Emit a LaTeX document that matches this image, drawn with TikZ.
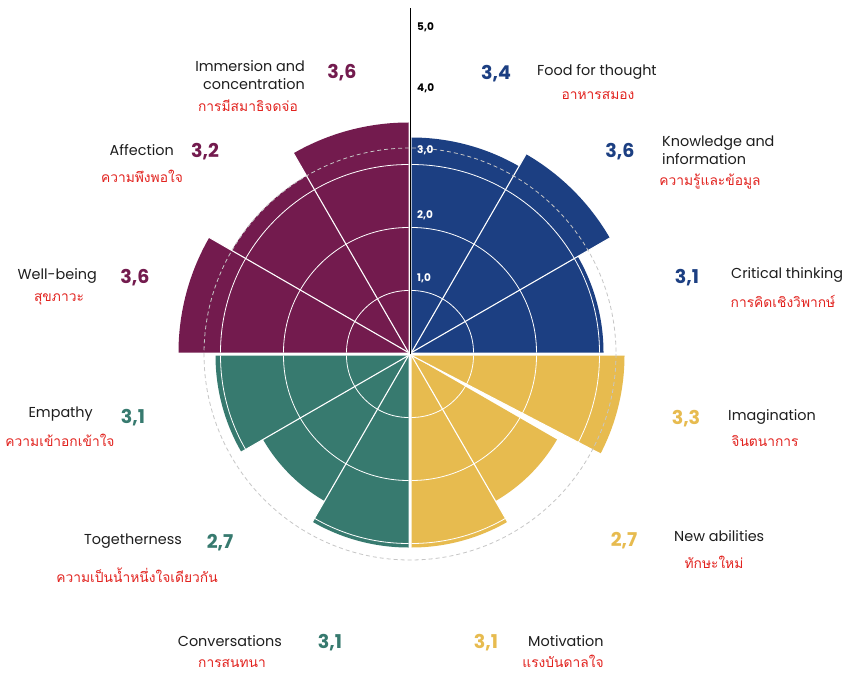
\documentclass[tikz,border=0pt]{standalone}
\usepackage{fontspec}
\setmainfont{Poppins}
\newfontfamily\thai[Script=Thai]{Loma}
\definecolor{cpur}{HTML}{731B4E}
\definecolor{cblu}{HTML}{1C3F82}
\definecolor{cyel}{HTML}{E7BB4F}
\definecolor{ctea}{HTML}{377A6F}
\definecolor{cred}{HTML}{E2231F}
\definecolor{ctxt}{HTML}{1E1E1E}
\tikzset{
  lab/.style={font=\fontsize{14.4}{18}\selectfont, text=ctxt, inner sep=0pt, align=left},
  labr/.style={lab, anchor=east, align=right},
  labl/.style={lab, anchor=west, align=left},
  val/.style={font=\fontsize{19}{21}\selectfont\bfseries, inner sep=0pt},
  th/.style={font=\thai\fontsize{13.8}{15}\selectfont, text=cred, inner sep=0pt},
  ax/.style={font=\fontsize{10.5}{12}\selectfont\bfseries, inner sep=0pt, anchor=west},
  grid/.style={white, line width=0.8pt},
  sep/.style={white, line width=1.1pt},
}
\newcommand{\sect}[4]{% color, a1, a2, radius px
  \fill[#1] (0,0) -- (#2:#4) arc[start angle=#2, end angle=#3, radius=#4] -- cycle;}
\begin{document}
\begin{tikzpicture}[x=1pt,y=-1pt]
\useasboundingbox (0,0) rectangle (851,674);
\fill[white] (0,0) rectangle (851,674);
% axis
\coordinate (ctr) at (410,354);
\coordinate (axtop) at (410,8);
\draw[black, line width=0.8pt] (ctr) -- (axtop);
\node[ax, text=black] (a5) at (417,27) {5,0};
\node[ax, text=black] (a4) at (417,88) {4,0};
% blue quadrant
\begin{scope}[shift={(411.5,352.5)}, yscale=-1]
  \sect{cblu}{60}{90}{215}
  \sect{cblu}{30}{60}{229}
  \sect{cblu}{0}{30}{192}
  \foreach \r in {62,125,188} \draw[grid] (\r,0) arc[start angle=0, end angle=90, radius=\r];
  \draw[sep] (0,0) -- (30:240);
  \draw[sep] (0,0) -- (60:240);
\end{scope}
% yellow quadrant
\begin{scope}[shift={(411.5,355.5)}, yscale=-1]
  \sect{cyel}{-27.5}{0}{213}
  \sect{cyel}{-60}{-30}{168}
  \sect{cyel}{-90}{-60}{192}
  \foreach \r in {62,125,188} \draw[grid] (\r,0) arc[start angle=0, end angle=-90, radius=\r];
  \draw[sep] (0,0) -- (-27.5:240);
  \draw[sep] (0,0) -- (-60:240);
\end{scope}
% teal quadrant
\begin{scope}[shift={(408.5,355.5)}, yscale=-1]
  \sect{ctea}{-120}{-90}{192}
  \sect{ctea}{-150}{-120}{168}
  \sect{ctea}{-180}{-150}{193}
  \foreach \r in {62,125,188} \draw[grid] (-\r,0) arc[start angle=180, end angle=270, radius=\r];
  \draw[sep] (0,0) -- (-120:240);
  \draw[sep] (0,0) -- (-150:240);
\end{scope}
% purple quadrant
\begin{scope}[shift={(408.5,352.5)}, yscale=-1]
  \sect{cpur}{150}{180}{230}
  \sect{cpur}{120}{150}{204}
  \sect{cpur}{90}{120}{230}
  \foreach \r in {62,125,188} \draw[grid] (0,\r) arc[start angle=90, end angle=180, radius=\r];
  \draw[sep] (0,0) -- (120:240);
  \draw[sep] (0,0) -- (150:240);
\end{scope}
% dashed mean circle
\draw[gray!45, line width=0.8pt, dash pattern=on 4pt off 3pt] (ctr) circle[radius=206];
% axis labels on chart
\node[ax, text=white] (a3) at (417,150) {3,0};
\node[ax, text=white] (a2) at (417,215) {2,0};
\node[ax, text=white] (a1) at (417,278) {1,0};
% labels: purple
\node[labr] (l1) at (305,75) {Immersion and\\concentration};
\node[val, text=cpur] (v1) at (342,73) {3,6};
\node[th] (t1) at (248,106) {การมีสมาธิจดจ่อ};
\node[labr] (l2) at (174,150) {Affection};
\node[val, text=cpur] (v2) at (205,152) {3,2};
\node[th] (t2) at (142,176) {ความพึงพอใจ};
\node[labr] (l3) at (97,276) {Well-being};
\node[val, text=cpur] (v3) at (135,278) {3,6};
\node[th] (t3) at (59,299) {สุขภาวะ};
% teal
\node[labr] (l4) at (93,414) {Empathy};
\node[val, text=ctea] (v4) at (133,418) {3,1};
\node[th] (t4) at (60,440) {ความเข้าอกเข้าใจ};
\node[labr] (l5) at (182,541) {Togetherness};
\node[val, text=ctea] (v5) at (220,543) {2,7};
\node[th] (t5) at (137,575) {ความเป็นน้ำหนึ่งใจเดียวกัน};
\node[labr] (l6) at (282,641) {Conversations};
\node[val, text=ctea] (v6) at (330,643) {3,1};
\node[th] (t6) at (232,663) {การสนทนา};
% blue
\node[labl] (l7) at (537,72) {Food for thought};
\node[val, text=cblu] (v7) at (496,74) {3,4};
\node[th] (t7) at (598,95) {อาหารสมอง};
\node[labl] (l8) at (662,150) {Knowledge and\\information};
\node[val, text=cblu] (v8) at (620,152) {3,6};
\node[th] (t8) at (710,182) {ความรู้และข้อมูล};
\node[labl] (l9) at (731,275) {Critical thinking};
\node[val, text=cblu] (v9) at (687,278) {3,1};
\node[th] (t9) at (783,301) {การคิดเชิงวิพากษ์};
% yellow
\node[labl] (l10) at (728,417) {Imagination};
\node[val, text=cyel] (v10) at (686,419) {3,3};
\node[th] (t10) at (765,441) {จินตนาการ};
\node[labl] (l11) at (674,536) {New abilities};
\node[val, text=cyel] (v11) at (624,541) {2,7};
\node[th] (t11) at (714,562) {ทักษะใหม่};
\node[labl] (l12) at (528,641) {Motivation};
\node[val, text=cyel] (v12) at (486,643) {3,1};
\node[th] (t12) at (563,661) {แรงบันดาลใจ};
\end{tikzpicture}
\end{document}
